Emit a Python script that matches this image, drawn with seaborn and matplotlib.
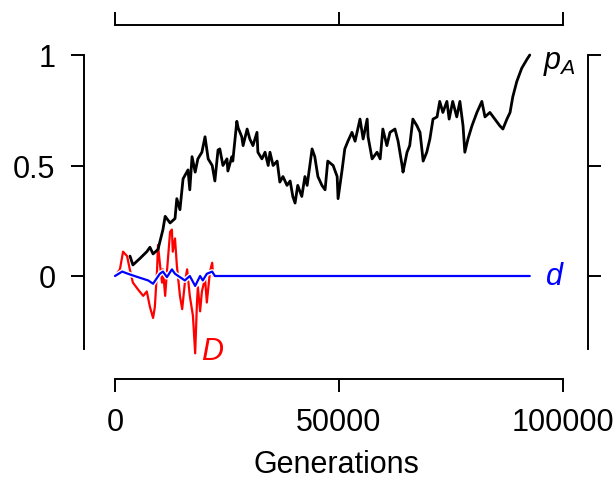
import numpy as np
import pandas as pd
import matplotlib
matplotlib.use("Agg")
import matplotlib.pyplot as plt
import matplotlib.patheffects as pe
import seaborn as sns

# frequencia do alelo A (geracoes em milhares)
gen_pA = [3.35, 4.0, 5.6, 7.1, 7.8, 8.5, 9.6, 10.7, 11.2, 12.3, 13.4, 13.8, 14.5, 15.2,
          16.3, 16.7, 17.2, 17.9, 18.5, 19.4, 20.1, 20.8, 21.7, 22.3, 23.0,
          23.4, 24.1, 25.0, 25.2, 26.1, 26.3, 27.2, 27.5, 28.3, 28.6, 29.5, 30.1, 30.8,
          31.7, 31.9, 32.8, 33.5, 34.2, 34.6, 35.3, 36.2, 36.8, 37.5, 38.4, 39.1, 39.7,
          40.2, 40.8, 41.7, 42.4, 42.9, 44.0, 44.6, 45.3, 46.2, 46.9, 47.5, 48.7, 49.6,
          49.8, 50.7, 51.3, 52.0, 52.9, 53.6, 54.7, 55.4, 56.3, 56.5, 57.4, 58.5, 59.2,
          59.8, 60.7, 61.4, 62.5, 63.2, 64.1, 64.3, 65.2, 65.8, 66.5, 67.4, 68.1, 68.8,
          69.6, 70.3, 71.0, 71.9, 72.5, 73.2, 74.1, 74.6, 75.4, 76.3, 77.0, 77.7, 78.1,
          78.8, 79.7, 80.8, 81.9, 82.6, 83.7, 84.8, 85.9, 86.6, 87.5, 88.2, 88.8, 89.7,
          90.8, 91.96, 92.6]
val_pA = [0.09, 0.05, 0.08, 0.11, 0.13, 0.10, 0.12, 0.21, 0.27, 0.24, 0.26, 0.35, 0.30, 0.44,
          0.48, 0.39, 0.54, 0.47, 0.53, 0.56, 0.63, 0.53, 0.50, 0.43, 0.57,
          0.575, 0.50, 0.53, 0.475, 0.54, 0.52, 0.70, 0.67, 0.63, 0.59, 0.665, 0.62, 0.59,
          0.65, 0.56, 0.53, 0.56, 0.50, 0.56, 0.50, 0.52, 0.425, 0.45, 0.41, 0.43, 0.36,
          0.33, 0.41, 0.36, 0.45, 0.41, 0.575, 0.54, 0.45, 0.41, 0.39, 0.52, 0.50, 0.45,
          0.35, 0.48, 0.575, 0.61, 0.65, 0.61, 0.71, 0.62, 0.71, 0.63, 0.53, 0.56, 0.53,
          0.665, 0.59, 0.65, 0.665, 0.61, 0.50, 0.47, 0.56, 0.59, 0.71, 0.68, 0.65, 0.52,
          0.56, 0.62, 0.71, 0.72, 0.79, 0.74, 0.79, 0.71, 0.79, 0.72, 0.79, 0.68, 0.56,
          0.62, 0.68, 0.74, 0.79, 0.72, 0.74, 0.71, 0.68, 0.665, 0.71, 0.74, 0.81, 0.88,
          0.94, 0.98, 1.00]

# desequilibrio D
gen_D = [0, 1.1, 1.8, 2.7, 3.3, 4.0, 5.1, 6.3, 7.1, 7.8, 8.5, 8.9, 9.4, 9.6, 10.0, 10.5,
         10.7, 11.2, 11.6, 12.3, 12.7, 12.9, 13.4, 13.8, 14.5, 15.0, 15.6, 16.1, 16.7,
         17.4, 17.9, 18.3, 18.5, 19.0, 19.4, 20.1, 20.5, 21.2, 21.7, 21.9]
val_D = [0, 0.03, 0.11, 0.09, 0.03, -0.03, -0.06, -0.09, -0.07, -0.14, -0.19, -0.14, 0.03,
         0.14, 0.06, -0.03, 0.03, -0.09, 0.02, 0.20, 0.21, 0.11, 0.17, 0.05, -0.09, -0.15,
         -0.03, 0.03, -0.09, -0.18, -0.35, -0.12, -0.05, -0.16, -0.07, -0.01, -0.12, 0.02,
         0.06, 0.0]

# d
gen_d = [0, 1.6, 2.9, 5.1, 7.4, 8.5, 10.0, 10.7, 11.6, 12.7, 13.4, 14.5, 15.6, 16.7, 17.9,
         19.0, 19.6, 20.5, 21.7, 22.3, 92.6]
val_d = [0, 0.02, 0.01, -0.005, -0.02, -0.035, 0.01, 0.02, -0.005, 0.03, 0.01, -0.005,
         -0.02, 0.0, -0.045, 0.0, -0.02, 0.01, 0.02, 0.0, 0.0]

df_pA = pd.DataFrame({'gen': np.array(gen_pA) * 1000, 'val': val_pA})
df_D = pd.DataFrame({'gen': np.array(gen_D) * 1000, 'val': val_D})
df_d = pd.DataFrame({'gen': np.array(gen_d) * 1000, 'val': val_d})

sns.set_style("ticks")
plt.rcParams['font.family'] = ['Liberation Sans', 'DejaVu Sans']
plt.rcParams['mathtext.fontset'] = 'custom'
plt.rcParams['mathtext.it'] = 'Liberation Sans:italic'
plt.rcParams['mathtext.rm'] = 'Liberation Sans'
for k in ['text.color', 'axes.labelcolor', 'xtick.color', 'ytick.color', 'axes.edgecolor']:
    plt.rcParams[k] = 'black'

fig = plt.figure(figsize=(6.13, 4.81), dpi=100)
ax = fig.add_axes([84 / 613, 1 - 380 / 481, (588 - 84) / 613, (380 - 26) / 481])

sns.lineplot(data=df_D, x='gen', y='val', color='red', lw=1.6, ax=ax, sort=False)
sns.lineplot(data=df_d, x='gen', y='val', color='blue', lw=1.6, ax=ax, sort=False,
             path_effects=[pe.Stroke(linewidth=3.6, foreground='white'), pe.Normal()])
sns.lineplot(data=df_pA, x='gen', y='val', color='black', lw=2.0, ax=ax, sort=False)

ax.set_xlim(-6920, 105600)
ax.set_ylim((277 - 380) / 221, (277 - 26) / 221)

ax.set_xticks([0, 50000, 100000])
ax.set_xticklabels(['0', '50000', '100000'])
ax.set_yticks([0, 0.5, 1])
ax.set_yticklabels(['0', '0.5', '1'])

for s in ['top', 'bottom']:
    ax.spines[s].set_bounds(0, 100000)
for s in ['left', 'right']:
    ax.spines[s].set_bounds(-0.33, 1)
for s in ax.spines.values():
    s.set_linewidth(1.4)

ax.tick_params(axis='both', direction='out', length=9.5, width=1.4, labelsize=22,
               top=True, right=True, labeltop=False, labelright=False)
ax.tick_params(axis='x', pad=10.5)
ax.tick_params(axis='y', pad=11)

ax.set_xlabel('Generations', fontsize=22, labelpad=9)
ax.set_ylabel('')

ax.text(95500, 0.97, '$p_A$', fontsize=22, ha='left', va='center')
ax.text(96000, 0.0, '$d$', color='blue', fontsize=22, ha='left', va='center')
ax.text(19200, -0.34, '$D$', color='red', fontsize=22, ha='left', va='center')

plt.savefig('out.png', dpi=100)
